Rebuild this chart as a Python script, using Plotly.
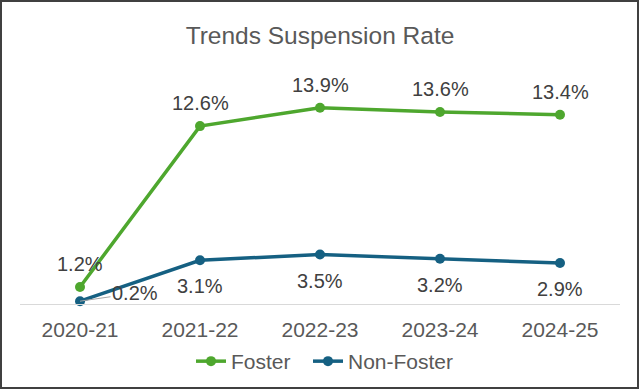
import plotly.graph_objects as go

years = ["2020-21", "2021-22", "2022-23", "2023-24", "2024-25"]
foster = [1.2, 12.6, 13.9, 13.6, 13.4]
non_foster = [0.2, 3.1, 3.5, 3.2, 2.9]

GREEN = "#4EA72E"
BLUE = "#156082"
W, H = 640, 390
L, R, T, B = 20, 20, 80, 86
PW, PH = W - L - R, H - T - B

fig = go.Figure()
fig.add_trace(go.Scatter(x=years, y=foster, name="Foster", mode="lines+markers",
                         line=dict(color=GREEN, width=3.5), marker=dict(size=10, color=GREEN),
                         cliponaxis=False, legend="legend"))
fig.add_trace(go.Scatter(x=years, y=non_foster, name="Non-Foster", mode="lines+markers",
                         line=dict(color=BLUE, width=3.5), marker=dict(size=10, color=BLUE),
                         cliponaxis=False, legend="legend2"))

ann = []
for x, v in zip(years, foster):
    ann.append(dict(x=x, y=v, text=f"{v:.1f}%", showarrow=False, yshift=23,
                    font=dict(size=20, color="#404040")))
for i, (x, v) in enumerate(zip(years, non_foster)):
    if i == 0:
        ann.append(dict(x=x, y=v, text=f"{v:.1f}%", showarrow=True, arrowhead=0,
                        arrowwidth=1, arrowcolor="#a6a6a6", ax=55, ay=-8,
                        font=dict(size=20, color="#404040")))
    else:
        ann.append(dict(x=x, y=v, text=f"{v:.1f}%", showarrow=False, yshift=-26,
                        font=dict(size=20, color="#404040")))

legend_common = dict(orientation="h", xref="container", xanchor="left",
                     yref="container", y=1 - 361.5 / H, yanchor="middle",
                     font=dict(size=21, color="#595959"), bgcolor="rgba(0,0,0,0)")

fig.update_layout(
    width=W, height=H, autosize=False,
    margin=dict(l=L, r=R, t=T, b=B),
    paper_bgcolor="white", plot_bgcolor="white",
    font=dict(family="Liberation Sans, Arial, sans-serif", color="#595959"),
    title=dict(text="Trends Suspension Rate", x=0.5, xanchor="center",
               yref="container", y=1 - 35 / H,
               yanchor="middle", font=dict(size=24.5, color="#595959")),
    xaxis=dict(type="category", range=[-0.5, 4.5], showline=True, linecolor="#D9D9D9",
               linewidth=1, showgrid=False, ticks="", tickfont=dict(size=21, color="#595959"),
               ticklabelstandoff=7, zeroline=False, automargin=False),
    yaxis=dict(visible=False, range=[0, PH / 14.12], showgrid=False, zeroline=False,
               automargin=False),
    showlegend=True,
    legend=dict(x=191 / W, **legend_common),
    legend2=dict(x=308 / W, **legend_common),
    annotations=ann,
    shapes=[dict(type="rect", xref="paper", yref="paper",
                 x0=(1 - L) / PW, x1=(W - 2 - L) / PW,
                 y0=(304 - (H - 2)) / PH, y1=(304 - 1) / PH,
                 line=dict(color="#404040", width=2), layer="above")],
)

fig.write_html("out.html", config={"displayModeBar": False, "responsive": False},
               post_script="document.body.style.margin='0px';document.body.style.overflow='hidden';")
